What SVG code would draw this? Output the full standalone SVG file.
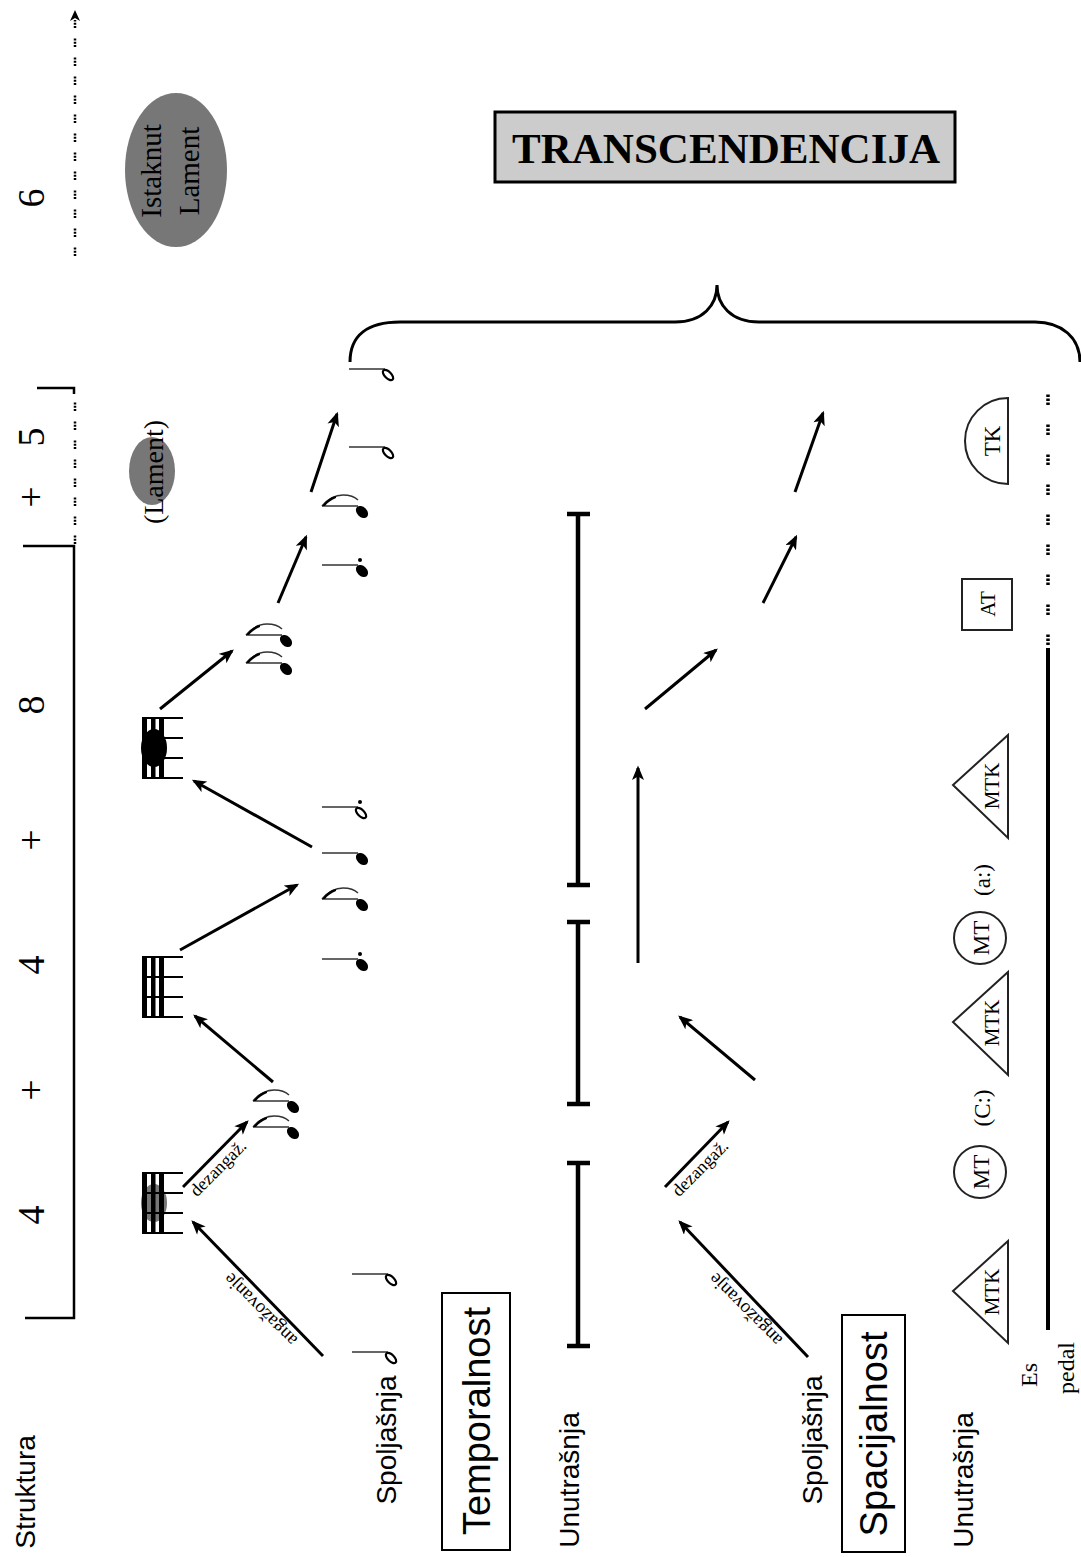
<svg xmlns="http://www.w3.org/2000/svg" width="1081" height="1557" viewBox="0 0 1081 1557">
<defs>
<style>
.sans{font-family:"Liberation Sans",Arial,sans-serif;fill:#000}
.serif{font-family:"Liberation Serif","Times New Roman",serif;fill:#000}
.lbl{font-size:28px}
.num{font-size:38px}
.arr{stroke:#000;stroke-width:3;fill:none;marker-end:url(#ah)}
.ibar{stroke:#000;stroke-width:4.5;fill:none}
.stem{stroke:#333;stroke-width:1.4}
.shape{fill:none;stroke:#222;stroke-width:2}
.dots{stroke:#000;stroke-width:2.5;fill:none;stroke-dasharray:2 1.2 2 1.2 2 10.6}
.dots2{stroke:#000;stroke-width:3.5;fill:none;stroke-dasharray:2.5 1.5 2.5 1.5 2.5 19.5}
</style>
<marker id="ah" viewBox="0 0 12 10" refX="10" refY="5" markerWidth="15" markerHeight="12" markerUnits="userSpaceOnUse" orient="auto"><path d="M0,0 L12,5 L0,10 L3,5 Z" fill="#000"/></marker>
<g id="staffSym">
<rect x="0" y="0" width="5" height="60" fill="#000"/>
<rect x="9" y="0" width="4.5" height="60" fill="#000"/>
<rect x="17" y="0" width="5" height="60" fill="#000"/>
<path d="M0,0H41M0,20H41M0,40H41M0,60H41" stroke="#000" stroke-width="2"/>
</g>
<g id="halfN"><line class="stem" x1="-36" y1="0" x2="0" y2="0"/><ellipse cx="3" cy="6" rx="6.5" ry="3.3" transform="rotate(45 3 6)" fill="none" stroke="#000" stroke-width="2.2"/></g>
<g id="qN"><line class="stem" x1="-36" y1="0" x2="0" y2="0"/><ellipse cx="4" cy="6" rx="7" ry="5" transform="rotate(45 4 6)" fill="#000"/></g>
<g id="flag"><path d="M-36,0 C-30,-7 -24,-11 -15,-11 C-8,-11 -3,-9 0,-6" stroke="#333" stroke-width="1.4" fill="none"/><path d="M-36,0 C-32,-5 -28,-9 -22,-10 L-22,-8 C-27,-6 -31,-3 -33,0 Z" fill="#000"/></g>
<g id="eighthN"><use href="#qN"/><use href="#flag"/></g>
<g id="dotQN"><use href="#qN"/><circle cx="2" cy="-5" r="2" fill="#000"/></g>
<g id="dotHN"><use href="#halfN"/><circle cx="2" cy="-5" r="2" fill="#000"/></g>
</defs>
<rect width="1081" height="1557" fill="#fff"/>

<!-- Structure axis -->
<g id="struktura">
<text class="sans lbl" transform="translate(25,1492) rotate(-90)" text-anchor="middle" dominant-baseline="central">Struktura</text>
<g class="serif num" text-anchor="middle" dominant-baseline="central">
<text transform="translate(31,1215) rotate(-90)">4</text>
<text transform="translate(31,1090) rotate(-90)">+</text>
<text transform="translate(31,965) rotate(-90)">4</text>
<text transform="translate(31,840) rotate(-90)">+</text>
<text transform="translate(31,705) rotate(-90)">8</text>
<text transform="translate(31,497) rotate(-90)">+</text>
<text transform="translate(31,437) rotate(-90)">5</text>
<text transform="translate(31,198) rotate(-90)">6</text>
</g>
<path d="M25,1318 L74,1318 L74,546 L23,546" stroke="#000" stroke-width="2.5" fill="none"/>
<path d="M75,544 L75,392" class="dots"/>
<path d="M37,388 L74,388 L74,394" stroke="#000" stroke-width="2.5" fill="none"/>
<path d="M75,256 L75,20" class="dots"/>
<path d="M75,10 L70,21 L75,18 L80,21 Z" fill="#000"/>
</g>

<g id="istaknut">
<ellipse cx="176" cy="170" rx="51" ry="77" fill="#777"/>
<text class="serif" font-size="29" transform="translate(151,171) rotate(-90)" text-anchor="middle" dominant-baseline="central">Istaknut</text>
<text class="serif" font-size="29" transform="translate(189,171) rotate(-90)" text-anchor="middle" dominant-baseline="central">Lament</text>
</g>
<g id="lament">
<ellipse cx="152" cy="471" rx="23" ry="34" fill="#777"/>
<text class="serif" font-size="28" transform="translate(153,472) rotate(-90)" text-anchor="middle" dominant-baseline="central">(Lament)</text>
</g>

<g id="transcendencija">
<rect x="495" y="112" width="460" height="70" fill="#ccc" stroke="#000" stroke-width="3"/>
<text class="serif" font-size="42" font-weight="bold" x="726" y="163" text-anchor="middle" textLength="428" lengthAdjust="spacingAndGlyphs">TRANSCENDENCIJA</text>
</g>

<g id="brace">
<path d="M350,362 C350,335 368,322 400,322 L675,322 C703,322 717,305 717,285 C717,305 731,322 759,322 L1035,322 C1062,322 1080,338 1080,362" stroke="#000" stroke-width="3" fill="none"/>
</g>

<!-- Staff symbols -->
<g id="staff1"><ellipse cx="154" cy="1203" rx="13" ry="19" fill="#777"/><use href="#staffSym" x="142" y="1173"/></g>
<g id="staff2"><use href="#staffSym" x="142" y="957"/></g>
<g id="staff3"><ellipse cx="154" cy="748" rx="13" ry="19" fill="#000"/><use href="#staffSym" x="142" y="718"/></g>

<!-- Notes -->
<g id="notes">
<use href="#halfN" x="388" y="1274"/>
<use href="#halfN" x="388" y="1352"/>
<use href="#eighthN" x="289" y="1101"/>
<use href="#eighthN" x="289" y="1127"/>
<use href="#dotHN" x="358" y="807"/>
<use href="#qN" x="358" y="853"/>
<use href="#eighthN" x="358" y="899"/>
<use href="#dotQN" x="358" y="959"/>
<use href="#eighthN" x="282" y="635"/>
<use href="#eighthN" x="282" y="663"/>
<use href="#dotQN" x="358" y="565"/>
<use href="#eighthN" x="358" y="506"/>
<use href="#halfN" x="385" y="447"/>
<use href="#halfN" x="385" y="369"/>
</g>

<!-- Labels -->
<g id="temporalnost">
<text class="sans lbl" transform="translate(386,1440) rotate(-90)" text-anchor="middle" dominant-baseline="central">Spoljašnja</text>
<rect x="442" y="1293" width="68" height="257" fill="none" stroke="#000" stroke-width="2"/>
<text class="sans" font-size="38" transform="translate(477,1421) rotate(-90)" text-anchor="middle" dominant-baseline="central">Temporalnost</text>
<text class="sans lbl" transform="translate(569,1480) rotate(-90)" text-anchor="middle" dominant-baseline="central">Unutrašnja</text>
</g>
<g id="spacijalnost">
<text class="sans lbl" transform="translate(812,1440) rotate(-90)" text-anchor="middle" dominant-baseline="central">Spoljašnja</text>
<rect x="842" y="1315" width="63" height="237" fill="none" stroke="#000" stroke-width="2"/>
<text class="sans" font-size="38" transform="translate(874,1434) rotate(-90)" text-anchor="middle" dominant-baseline="central">Spacijalnost</text>
<text class="sans lbl" transform="translate(963,1480) rotate(-90)" text-anchor="middle" dominant-baseline="central">Unutrašnja</text>
</g>

<!-- Inner timeline -->
<g id="timeline">
<path class="ibar" d="M567,514H590M578,514V885M567,885H590"/>
<path class="ibar" d="M567,922H590M578,922V1104M567,1104H590"/>
<path class="ibar" d="M567,1163H590M578,1163V1346M567,1346H590"/>
</g>

<!-- Connectors -->
<g id="connectors">
<line class="arr" x1="323" y1="1356" x2="193" y2="1222"/>
<line class="arr" x1="183" y1="1187" x2="247" y2="1122"/>
<line class="arr" x1="273" y1="1082" x2="195" y2="1016"/>
<line class="arr" x1="180" y1="950" x2="297" y2="885"/>
<line class="arr" x1="312" y1="847" x2="194" y2="781"/>
<line class="arr" x1="160" y1="709" x2="232" y2="651"/>
<line class="arr" x1="278" y1="603" x2="306" y2="537"/>
<line class="arr" x1="311" y1="492" x2="337" y2="414"/>

<line class="arr" x1="808" y1="1357" x2="680" y2="1222"/>
<line class="arr" x1="665" y1="1187" x2="728" y2="1122"/>
<line class="arr" x1="755" y1="1080" x2="680" y2="1017"/>
<line class="arr" x1="638" y1="963" x2="638" y2="768"/>
<line class="arr" x1="645" y1="709" x2="716" y2="650"/>
<line class="arr" x1="763" y1="603" x2="796" y2="537"/>
<line class="arr" x1="795" y1="492" x2="823" y2="413"/>

<text class="serif" font-size="19" transform="translate(260,1310) rotate(-135)" text-anchor="middle" dominant-baseline="central">angažovanje</text>
<text class="serif" font-size="18" transform="translate(218,1168) rotate(-45)" text-anchor="middle" dominant-baseline="central">dezangaž.</text>
<text class="serif" font-size="19" transform="translate(745,1310) rotate(-135)" text-anchor="middle" dominant-baseline="central">angažovanje</text>
<text class="serif" font-size="18" transform="translate(700,1168) rotate(-45)" text-anchor="middle" dominant-baseline="central">dezangaž.</text>
</g>

<!-- Bottom row -->
<g id="mtk1"><path class="shape" d="M1008,1241 L953,1291 L1008,1343 Z"/><text class="serif" font-size="21" transform="translate(992,1292) rotate(-90)" text-anchor="middle" dominant-baseline="central">MTK</text></g>
<g id="mt1"><circle class="shape" cx="980" cy="1172" r="26"/><text class="serif" font-size="23" transform="translate(981,1172) rotate(-90)" text-anchor="middle" dominant-baseline="central">MT</text></g>
<g id="c"><text class="serif" font-size="23" transform="translate(982,1108) rotate(-90)" text-anchor="middle" dominant-baseline="central">(C:)</text></g>
<g id="mtk2"><path class="shape" d="M1008,972 L953,1022 L1008,1075 Z"/><text class="serif" font-size="21" transform="translate(992,1023) rotate(-90)" text-anchor="middle" dominant-baseline="central">MTK</text></g>
<g id="mt2"><circle class="shape" cx="980" cy="938" r="26"/><text class="serif" font-size="23" transform="translate(981,938) rotate(-90)" text-anchor="middle" dominant-baseline="central">MT</text></g>
<g id="a"><text class="serif" font-size="23" transform="translate(982,880) rotate(-90)" text-anchor="middle" dominant-baseline="central">(a:)</text></g>
<g id="mtk3"><path class="shape" d="M1008,735 L953,785 L1008,838 Z"/><text class="serif" font-size="21" transform="translate(992,786) rotate(-90)" text-anchor="middle" dominant-baseline="central">MTK</text></g>
<g id="at"><rect class="shape" x="962" y="579" width="50" height="51"/><text class="serif" font-size="21" transform="translate(988,604) rotate(-90)" text-anchor="middle" dominant-baseline="central">AT</text></g>
<g id="tk"><path class="shape" d="M1008,398 A43,43 0 0 0 1008,484 Z"/><text class="serif" font-size="23" transform="translate(992,441) rotate(-90)" text-anchor="middle" dominant-baseline="central">TK</text></g>

<g id="espedal">
<path d="M1048,1330 L1048,648" stroke="#000" stroke-width="4" fill="none"/>
<path d="M1048,645 L1048,385" class="dots2"/>
<text class="serif" font-size="24" transform="translate(1029,1375) rotate(-90)" text-anchor="middle" dominant-baseline="central">Es</text>
<text class="serif" font-size="24" transform="translate(1066,1368) rotate(-90)" text-anchor="middle" dominant-baseline="central">pedal</text>
</g>
</svg>
